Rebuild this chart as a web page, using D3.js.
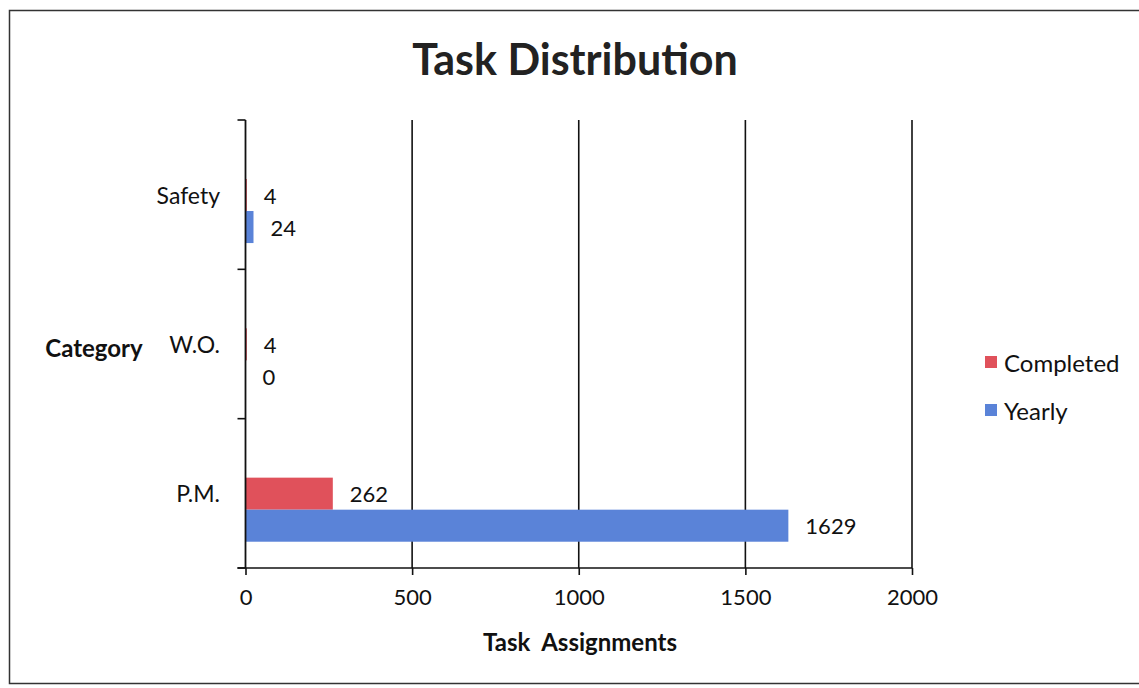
<!DOCTYPE html>
<html>
<head>
<meta charset="utf-8">
<script src="https://cdn.jsdelivr.net/npm/d3@7"></script>
<style>
  html, body { margin: 0; padding: 0; background: #fff; }
  svg { display: block; font-family: Lato, "Open Sans", sans-serif; }
</style>
</head>
<body>
<svg id="chart" width="1139" height="688"></svg>
<script>
const categories = ["Safety", "W.O.", "P.M."];
const seriesNames = ["Completed", "Yearly"];
const completedValues = [4, 4, 262];
const yearlyValues = [24, 0, 1629];
const xTicks = [0, 500, 1000, 1500, 2000];
const seriesColors = ["#e0515b", "#5a83d8"];

const svg = d3.select("#chart");
const W = 1139, H = 688;

// outer frame
svg.append("rect")
  .attr("x", 9.5).attr("y", 10.5)
  .attr("width", W + 10).attr("height", 673)
  .attr("fill", "#fff").attr("stroke", "#333").attr("stroke-width", 1.5);

const plot = { left: 245.5, right: 912, top: 120, bottom: 568 };

const x = d3.scaleLinear().domain([0, 2000]).range([plot.left, plot.right]);
const y = d3.scaleBand().domain(categories).range([plot.top, plot.bottom]);
const inner = d3.scaleBand().domain(seriesNames)
  .range([y.bandwidth() * 0.395, y.bandwidth() * 0.824]);

const g = svg.append("g");

// vertical gridlines
g.selectAll("line.grid").data(xTicks.slice(1)).enter().append("line")
  .attr("class", "grid")
  .attr("x1", d => x(d)).attr("x2", d => x(d))
  .attr("y1", plot.top).attr("y2", plot.bottom)
  .attr("stroke", "#111").attr("stroke-width", 1.6);

// bars
const rows = [];
categories.forEach((c, i) => {
  rows.push({ cat: c, s: "Completed", v: completedValues[i], color: seriesColors[0] });
  rows.push({ cat: c, s: "Yearly", v: yearlyValues[i], color: seriesColors[1] });
});

g.selectAll("rect.bar").data(rows).enter().append("rect")
  .attr("class", "bar")
  .attr("x", x(0))
  .attr("y", d => y(d.cat) + inner(d.s))
  .attr("width", d => x(d.v) - x(0))
  .attr("height", inner.bandwidth())
  .attr("fill", d => d.color);

// x axis
const xAxis = d3.axisBottom(x).tickValues(xTicks).tickSize(7).tickPadding(14)
  .tickFormat(d3.format("d"));
const xg = g.append("g").attr("transform", `translate(0,${plot.bottom})`).call(xAxis);
xg.select(".domain").attr("d", `M${plot.left - 8},0H${plot.right}`)
  .attr("stroke", "#111").attr("stroke-width", 1.6);
xg.selectAll(".tick line").attr("stroke", "#111").attr("stroke-width", 1.6);
xg.selectAll(".tick text").attr("font-size", 22).attr("fill", "#111")
  .attr("font-family", "Lato, sans-serif");

// y axis: ticks at band boundaries
const yBounds = categories.map(c => y(c)).concat([plot.bottom]);
g.append("line")
  .attr("x1", plot.left).attr("x2", plot.left)
  .attr("y1", plot.top).attr("y2", plot.bottom)
  .attr("stroke", "#111").attr("stroke-width", 1.8);
g.selectAll("line.ytick").data(yBounds).enter().append("line")
  .attr("class", "ytick")
  .attr("x1", plot.left - 8).attr("x2", plot.left)
  .attr("y1", d => d).attr("y2", d => d)
  .attr("stroke", "#111").attr("stroke-width", 1.6);

// category labels
g.selectAll("text.cat").data(categories).enter().append("text")
  .attr("class", "cat")
  .attr("x", 220).attr("y", d => y(d) + y.bandwidth() / 2)
  .attr("text-anchor", "end").attr("dominant-baseline", "central")
  .attr("font-size", 23).attr("fill", "#111")
  .text(d => d);

// value labels
g.selectAll("text.val").data(rows).enter().append("text")
  .attr("class", "val")
  .attr("x", d => x(d.v) + 17)
  .attr("y", d => y(d.cat) + inner(d.s) + inner.bandwidth() / 2)
  .attr("dominant-baseline", "central")
  .attr("font-size", 22).attr("fill", "#111")
  .text(d => d.v);

// title
svg.append("text")
  .attr("x", 575).attr("y", 75)
  .attr("text-anchor", "middle")
  .attr("font-size", 43).attr("font-weight", "bold").attr("fill", "#222")
  .text("Task Distribution");

// axis titles
svg.append("text")
  .attr("x", 94).attr("y", 347)
  .attr("text-anchor", "middle").attr("dominant-baseline", "central")
  .attr("font-size", 24).attr("font-weight", "bold").attr("fill", "#111")
  .text("Category");

svg.append("text")
  .attr("x", 580).attr("y", 641)
  .attr("text-anchor", "middle").attr("dominant-baseline", "central")
  .attr("font-size", 24).attr("font-weight", "bold").attr("fill", "#111")
  .attr("xml:space", "preserve")
  .text("Task  Assignments");

// legend
const legend = svg.append("g");
const legendItems = seriesNames.map((n, i) => ({ name: n, color: seriesColors[i] }));
const ly = d3.scalePoint().domain(seriesNames).range([362, 410]);
legend.selectAll("rect").data(legendItems).enter().append("rect")
  .attr("x", 985).attr("y", d => ly(d.name) - 6)
  .attr("width", 12).attr("height", 12)
  .attr("fill", d => d.color);
legend.selectAll("text").data(legendItems).enter().append("text")
  .attr("x", 1004).attr("y", d => ly(d.name))
  .attr("dominant-baseline", "central")
  .attr("font-size", 24).attr("fill", "#111")
  .text(d => d.name);
</script>
</body>
</html>
